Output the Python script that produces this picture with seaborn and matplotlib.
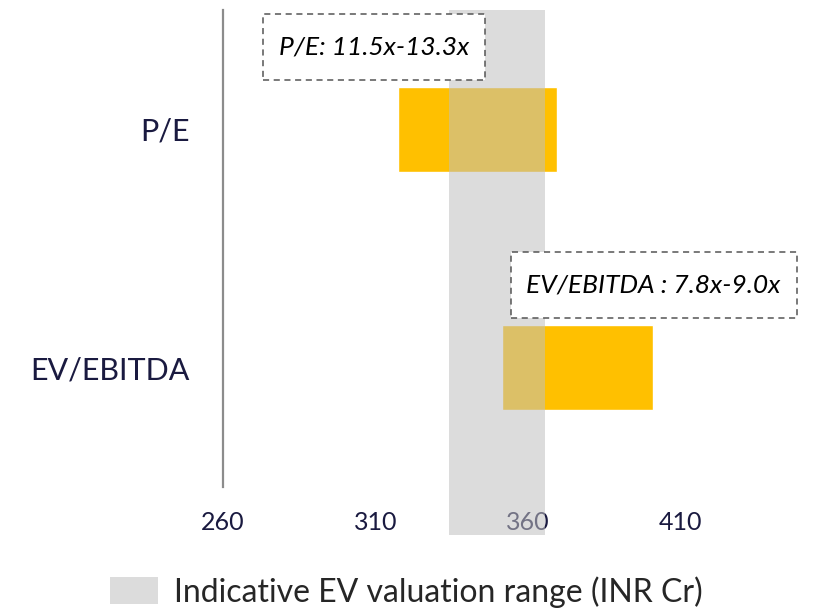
import matplotlib
matplotlib.use("Agg")
import matplotlib.pyplot as plt
from matplotlib.path import Path
import seaborn as sns
import pandas as pd

# valuation ranges (INR Cr)
methods = ["P/E", "EV/EBITDA"]
range_low = [317.5, 351.5]
range_high = [369.5, 401.0]
multiples = ["P/E: 11.5x-13.3x", "EV/EBITDA : 7.8x-9.0x"]
ev_low, ev_high = 334.0, 365.5
x_ticks = [260, 310, 360, 410]

navy = "#1a1a40"
yellow = "#FFC000"

sns.set_theme(style="white")
plt.rcParams["font.family"] = ["Lato", "DejaVu Sans"]


def wide_box(x0, y0, width, height, mutation_size):
    # rectangle with more vertical than horizontal padding
    px, py = 0.6 * mutation_size, 0.82 * mutation_size
    x0, y0 = x0 - px, y0 - py
    x1, y1 = x0 + width + 2 * px, y0 + height + 2 * py
    return Path([(x0, y0), (x1, y0), (x1, y1), (x0, y1), (x0, y0)], closed=True)


df = pd.DataFrame({"method": methods, "low": range_low, "high": range_high})
df["span"] = df["high"] - df["low"]

fig = plt.figure(figsize=(8.18, 6.10), dpi=100)
ax = fig.add_axes([0.2726, 0.2016, 0.7085, 0.782])

sns.barplot(data=df, x="span", y="method", orient="h", left=df["low"].values,
            color=yellow, saturation=1, width=0.355, ax=ax, zorder=2)

band = ax.axvspan(ev_low, ev_high, ymin=-0.1, ymax=1.0, color="#C0C0C0",
                  alpha=0.54, lw=0, zorder=3, clip_on=False,
                  label="Indicative EV valuation range (INR Cr)")

# dashed annotation boxes with the multiple ranges
text_pos = [(278.2, -0.345), (359.5, 0.652)]
for (tx, ty), label in zip(text_pos, multiples):
    ax.text(tx, ty, label, ha="left", va="center", fontsize=19,
            style="italic", color="black", zorder=5,
            bbox=dict(boxstyle=wide_box, fc="white", ec="#555555",
                      ls=(0, (4, 3)), lw=1.1))

ax.set_xlim(260, 450)
ax.set_ylim(1.5, -0.5)
ax.set_xticks(x_ticks)
ax.set_xticklabels([str(t) for t in x_ticks])
ax.set_xlabel("")
ax.set_ylabel("")
ax.tick_params(axis="x", length=0, pad=17, labelsize=18, labelcolor=navy)
ax.tick_params(axis="y", length=0, pad=24, labelsize=22, labelcolor=navy)

for side in ["top", "right", "bottom"]:
    ax.spines[side].set_visible(False)
ax.spines["left"].set_color("#8c8c8c")
ax.spines["left"].set_linewidth(1.6)

fig.legend(handles=[band], loc="center", bbox_to_anchor=(0.497, 0.03),
           frameon=False, fontsize=23, handlelength=1.5, handleheight=0.9,
           handletextpad=0.5)

fig.savefig("out.png", dpi=100)
